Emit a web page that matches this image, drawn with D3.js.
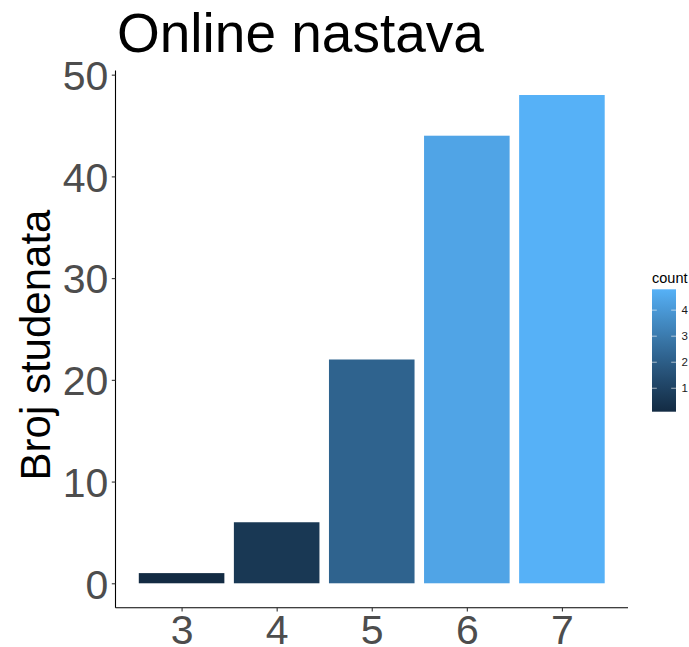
<!DOCTYPE html>
<html>
<head>
<meta charset="utf-8">
<script src="https://cdn.jsdelivr.net/npm/d3@7"></script>
<style>
  html, body { margin: 0; padding: 0; background: #fff; }
  svg { display: block; }
  text { font-family: "Liberation Sans", Arial, sans-serif; }
</style>
</head>
<body>
<script>
// Data
const categories = [3, 4, 5, 6, 7];
const values = [1, 6, 22, 44, 48];
const fillValues = [0.1, 0.6, 2.2, 4.4, 4.8];
const yTicks = [0, 10, 20, 30, 40, 50];
const legendTicks = [1, 2, 3, 4];
const titleText = "Online nastava";
const yTitle = "Broj studenata";
const legendTitle = "count";

const W = 689, H = 647;
const svg = d3.select("body").append("svg").attr("width", W).attr("height", H);

const panel = { left: 115.5, right: 628, top: 70.6, bottom: 607.7 };

// continuous x: bars width 0.9, 5% expansion
const xMin = 3 - 0.45, xMax = 7 + 0.45;
const xPad = (xMax - xMin) * 0.05;
const x = d3.scaleLinear().domain([xMin - xPad, xMax + xPad]).range([panel.left, panel.right]);
const yMaxV = d3.max(values);
const y = d3.scaleLinear().domain([-yMaxV * 0.05, yMaxV * 1.05]).range([panel.bottom, panel.top]);

const color = d3.scaleLinear().domain([d3.min(fillValues), d3.max(fillValues)])
  .range(["#132B43", "#56B1F7"]).interpolate(d3.interpolateLab);

// bars
svg.append("g").selectAll("rect").data(categories).join("rect")
  .attr("x", (d) => x(d - 0.45))
  .attr("width", (d) => x(d + 0.45) - x(d - 0.45))
  .attr("y", (d, i) => y(values[i]))
  .attr("height", (d, i) => y(0) - y(values[i]))
  .attr("fill", (d, i) => color(fillValues[i]));

// axes
const axisCol = "#4D4D4D";
const yAxis = svg.append("g").attr("transform", `translate(${panel.left},0)`)
  .call(d3.axisLeft(y).tickValues(yTicks).tickSize(3.7).tickPadding(3.5).tickFormat(d3.format("d")));
yAxis.select(".domain").attr("d", `M0,${panel.top}V${panel.bottom}`).attr("stroke", "#000").attr("stroke-width", 1.1);
yAxis.selectAll(".tick line").attr("stroke", "#333").attr("stroke-width", 1.1);
yAxis.selectAll(".tick text").attr("fill", axisCol).attr("font-size", 41)
  .attr("font-family", "Liberation Sans, Arial, sans-serif").attr("dy", "0.36em");

const xAxis = svg.append("g").attr("transform", `translate(0,${panel.bottom})`)
  .call(d3.axisBottom(x).tickValues(categories).tickSize(3.7).tickPadding(3).tickFormat(d3.format("d")));
xAxis.select(".domain").attr("d", `M${panel.left},0H${panel.right}`).attr("stroke", "#000").attr("stroke-width", 1.1);
xAxis.selectAll(".tick line").attr("stroke", "#333").attr("stroke-width", 1.1);
xAxis.selectAll(".tick text").attr("fill", axisCol).attr("font-size", 41)
  .attr("font-family", "Liberation Sans, Arial, sans-serif");

// title
svg.append("text").attr("x", 117).attr("y", 52).attr("font-size", 55).attr("fill", "#000").text(titleText);

// y title
svg.append("text").attr("transform", "translate(50,345) rotate(-90)")
  .attr("text-anchor", "middle").attr("font-size", 42).attr("fill", "#000").text(yTitle);

// legend colorbar
const lg = { x: 652, w: 24, top: 289.3, bottom: 411.7 };
const ly = d3.scaleLinear().domain([d3.min(fillValues), d3.max(fillValues)]).range([lg.bottom, lg.top]);
const defs = svg.append("defs");
const grad = defs.append("linearGradient").attr("id", "cbar").attr("x1", 0).attr("y1", 1).attr("x2", 0).attr("y2", 0);
d3.range(0, 1.0001, 0.05).forEach((t) => {
  const v = d3.min(fillValues) + t * (d3.max(fillValues) - d3.min(fillValues));
  grad.append("stop").attr("offset", t).attr("stop-color", color(v));
});
svg.append("rect").attr("x", lg.x).attr("y", lg.top).attr("width", lg.w).attr("height", lg.bottom - lg.top)
  .attr("fill", "url(#cbar)");
const lt = svg.append("g");
legendTicks.forEach((t) => {
  lt.append("line").attr("x1", lg.x).attr("x2", lg.x + lg.w / 5).attr("y1", ly(t)).attr("y2", ly(t))
    .attr("stroke", "#fff").attr("stroke-opacity", 0.6).attr("stroke-width", 1);
  lt.append("line").attr("x1", lg.x + lg.w - lg.w / 5).attr("x2", lg.x + lg.w).attr("y1", ly(t)).attr("y2", ly(t))
    .attr("stroke", "#fff").attr("stroke-opacity", 0.6).attr("stroke-width", 1);
  lt.append("text").attr("x", 681.5).attr("y", ly(t)).attr("dy", "0.36em").attr("font-size", 11.5)
    .attr("fill", "#1a1a1a").text(t);
});
svg.append("text").attr("x", 652).attr("y", 283).attr("font-size", 14.5).attr("fill", "#000").text(legendTitle);
</script>
</body>
</html>
